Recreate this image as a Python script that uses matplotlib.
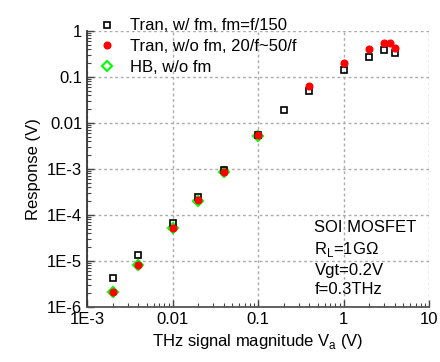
import matplotlib
matplotlib.use("Agg")
import matplotlib.pyplot as plt
from matplotlib.ticker import LogLocator, FixedLocator, NullFormatter

plt.rcParams['font.family'] = ['Liberation Sans', 'DejaVu Sans']

# Tran, w/ fm, fm=f/150
va_fm = [0.002, 0.004, 0.01, 0.02, 0.04, 0.1, 0.2, 0.4, 1, 2, 3, 4]
resp_fm = [4.3e-6, 1.33e-5, 6.7e-5, 2.5e-4, 9.5e-4, 5.4e-3, 0.019, 0.05, 0.14, 0.277, 0.38, 0.33]

# Tran, w/o fm
va_nofm = [0.002, 0.004, 0.01, 0.02, 0.04, 0.1, 0.4, 1, 2, 3, 3.5, 4]
resp_nofm = [2.1e-6, 8.3e-6, 5.3e-5, 2.1e-4, 8.8e-4, 5.4e-3, 0.065, 0.205, 0.40, 0.54, 0.54, 0.42]

# HB, w/o fm
va_hb = [0.002, 0.004, 0.01, 0.02, 0.04, 0.1]
resp_hb = [2.1e-6, 8.3e-6, 5.2e-5, 2.05e-4, 8.6e-4, 5.3e-3]

x_ticks = [1e-3, 1e-2, 1e-1, 1, 10]
x_labels = ['1E-3', '0.01', '0.1', '1', '10']
y_ticks = [1e-6, 1e-5, 1e-4, 1e-3, 1e-2, 1e-1, 1]
y_labels = ['1E-6', '1E-5', '1E-4', '1E-3', '0.01', '0.1', '1']

fig = plt.figure(figsize=(4.4, 3.62), dpi=100)
ax = fig.add_axes([87/440, 1 - 307/362, (429-87)/440, (307-31)/362])

ax.plot(va_hb, resp_hb, ls='none', marker='D', ms=5.2, mfc='none', mec='#00ff00', mew=1.5,
        label='HB, w/o fm', zorder=3)
ax.plot(va_fm, resp_fm, ls='none', marker='s', ms=3.8, mfc='none', mec='black', mew=1.2,
        label='Tran, w/ fm, fm=f/150', zorder=4)
ax.plot(va_nofm, resp_nofm, ls='none', marker='o', ms=4.8, mfc='red', mec='red',
        label='Tran, w/o fm, 20/f~50/f', zorder=5)

ax.set_xscale('log')
ax.set_yscale('log')
ax.set_xlim(1e-3, 10)
ax.set_ylim(1e-6, 1)

ax.xaxis.set_major_locator(FixedLocator(x_ticks))
ax.set_xticklabels(x_labels)
ax.yaxis.set_major_locator(FixedLocator(y_ticks))
ax.set_yticklabels(y_labels)
ax.xaxis.set_minor_locator(LogLocator(base=10, subs=range(2, 10), numticks=20))
ax.yaxis.set_minor_locator(LogLocator(base=10, subs=range(2, 10), numticks=20))
ax.xaxis.set_minor_formatter(NullFormatter())
ax.yaxis.set_minor_formatter(NullFormatter())

ax.tick_params(which='major', direction='in', length=5, width=1, labelsize=12, color='#444444')
ax.tick_params(which='minor', direction='in', length=3, width=0.8, color='#444444')

for s in ['top', 'right']:
    ax.spines[s].set_visible(False)
ax.spines['left'].set_color('#333333')
ax.spines['bottom'].set_color('#555555')
ax.spines['left'].set_linewidth(1.3)
ax.spines['bottom'].set_linewidth(1.3)

ax.grid(True, which='major', ls=(0, (2, 2)), color='#aaaaaa', lw=1)

ax.set_xlabel('THz signal magnitude V$_\\mathregular{a}$ (V)', fontsize=12)
ax.set_ylabel('Response (V)', fontsize=12)

# legend order as in reference
h, l = ax.get_legend_handles_labels()
order = [1, 2, 0]
ax.legend([h[i] for i in order], [l[i] for i in order], loc='upper left',
          bbox_to_anchor=(-0.01, 1.1), frameon=False, fontsize=12,
          handletextpad=0.9, labelspacing=0.35, handlelength=1.0)

ax.text(0.665, 0.315, 'SOI MOSFET\nR$_\\mathregular{L}$=1G\u03a9\nVgt=0.2V\nf=0.3THz',
        transform=ax.transAxes, fontsize=12, va='top', ha='left', linespacing=1.35)

fig.savefig('out.png', dpi=100)
